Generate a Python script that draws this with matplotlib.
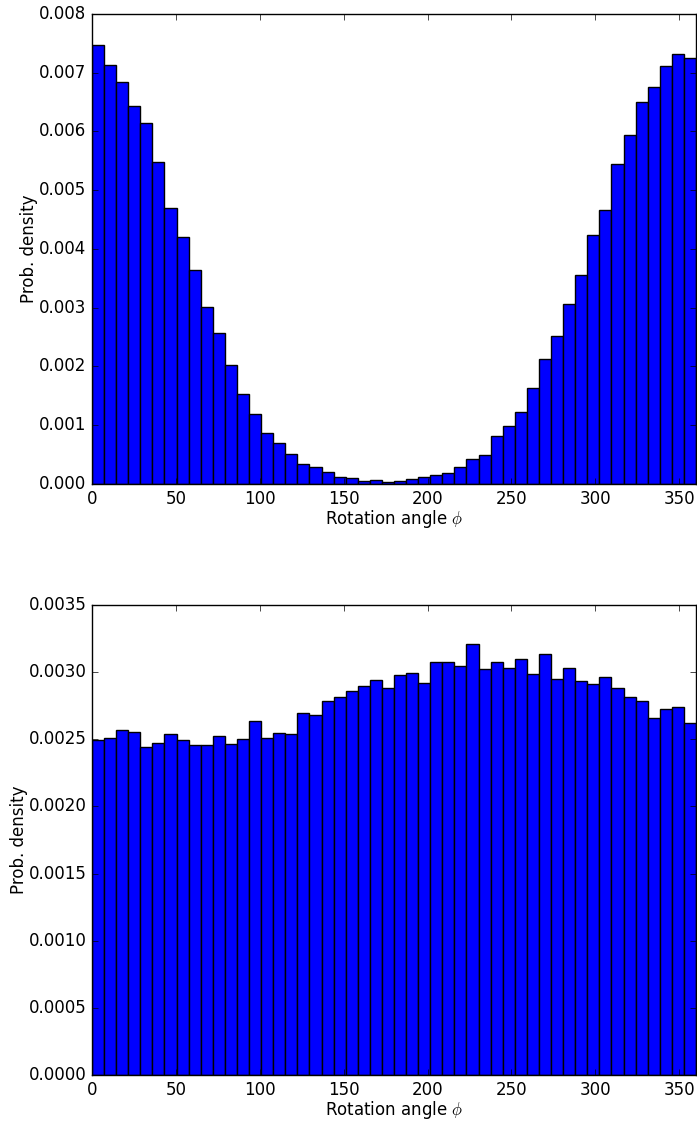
import numpy as np
import matplotlib
matplotlib.use('Agg')
import matplotlib.pyplot as plt

plt.style.use('classic')

# bin edges of the two histograms (50 bins over 0..360 deg)
edges = np.linspace(0, 360, 51)

dens_top = [0.00748, 0.00713, 0.00684, 0.00643, 0.00614, 0.005475, 0.00470, 0.00421, 0.00364, 0.00301,
            0.00257, 0.00202, 0.00154, 0.00119, 0.00087, 0.00069, 0.00051, 0.00034, 0.000295, 0.00020,
            0.00012, 0.00010, 0.000057, 0.000062, 0.00004, 0.000057, 0.00008, 0.000125, 0.000153, 0.000193,
            0.00029, 0.00043, 0.00050, 0.00081, 0.00099, 0.001225, 0.00164, 0.00212, 0.00252, 0.00306,
            0.00356, 0.00424, 0.00466, 0.00544, 0.005935, 0.00651, 0.00675, 0.00712, 0.007325, 0.00725]

dens_bot = [0.002493, 0.002507, 0.002567, 0.002554, 0.002446, 0.002475, 0.00254, 0.002495, 0.002458, 0.00246,
            0.002522, 0.002465, 0.002502, 0.002636, 0.002507, 0.002547, 0.002542, 0.002696, 0.00268, 0.002785,
            0.002814, 0.002859, 0.002899, 0.002941, 0.002881, 0.002978, 0.00299, 0.002918, 0.003072, 0.003072,
            0.003045, 0.003213, 0.00302, 0.003074, 0.003032, 0.003099, 0.002988, 0.003134, 0.002948, 0.00303,
            0.002936, 0.002908, 0.002963, 0.002881, 0.002814, 0.002785, 0.002656, 0.002728, 0.002738, 0.002621]

fig = plt.figure(figsize=(6.97, 11.23), dpi=100, facecolor='white')
ax1 = fig.add_axes([92 / 697, 1 - 484 / 1123, 604 / 697, 470 / 1123])
ax2 = fig.add_axes([92 / 697, 1 - 1075 / 1123, 604 / 697, 470 / 1123])

for ax, dens, ymax in [(ax1, dens_top, 0.008), (ax2, dens_bot, 0.0035)]:
    ax.bar(edges[:-1], dens, width=np.diff(edges), align='edge',
           color='#0000ff', edgecolor='black', linewidth=1)
    ax.set_xlim(0, 360)
    ax.set_ylim(0, ymax)
    ax.set_xlabel(r'Rotation angle $\phi$', labelpad=0.5)
    ax.set_ylabel('Prob. density', labelpad=0.5)

ax1.set_yticks(np.arange(0, 0.0081, 0.001))
ax1.set_yticklabels(['%.3f' % v for v in np.arange(0, 0.0081, 0.001)])
ax2.set_yticks(np.arange(0, 0.00351, 0.0005))
ax2.set_yticklabels(['%.4f' % v for v in np.arange(0, 0.00351, 0.0005)])

fig.savefig('out.png', dpi=100, facecolor='white')
